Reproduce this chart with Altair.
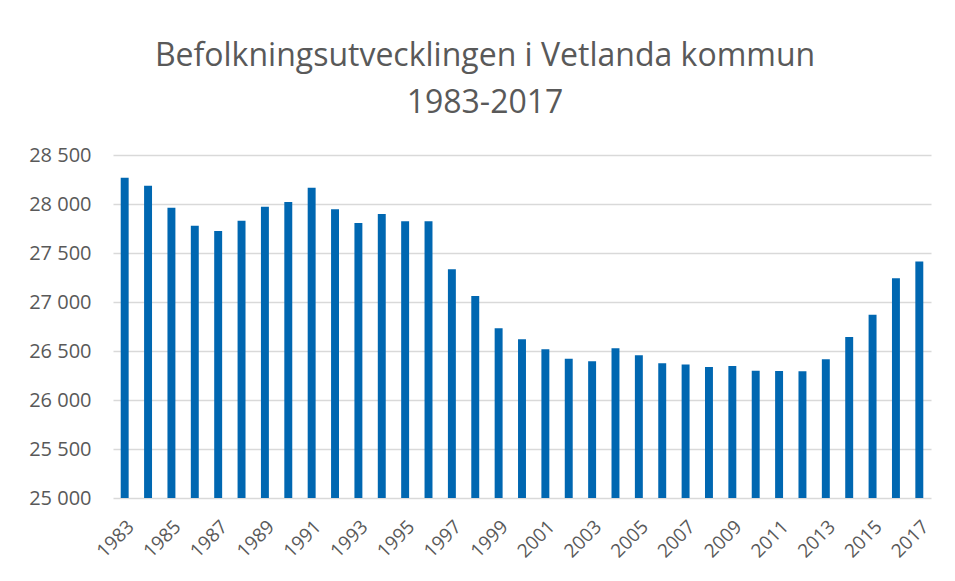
import altair as alt
import pandas as pd

years = list(range(1983, 2018))
population = [28269, 28187, 27963, 27779, 27724, 27830, 27973, 28020, 28167, 27946,
              27806, 27898, 27823, 27823, 27333, 27061, 26731, 26619, 26517, 26422,
              26395, 26528, 26456, 26374, 26361, 26337, 26347, 26299, 26296, 26293,
              26415, 26643, 26871, 27242, 27412]
label_years = [str(y) for y in years if y % 2 == 1]
y_ticks = [25000, 25500, 26000, 26500, 27000, 27500, 28000, 28500]

df = pd.DataFrame({"year": [str(y) for y in years], "pop": population})

chart = alt.Chart(df).mark_bar(color="#0067B1", clip=True).encode(
    x=alt.X("year:N", sort=None, title=None,
            scale=alt.Scale(paddingInner=0.66, paddingOuter=0.33),
            axis=alt.Axis(values=label_years, labelAngle=-45, labelFontSize=19,
                          labelColor="#595959", labelFont="Open Sans",
                          ticks=False, domain=False, labelPadding=19)),
    y=alt.Y("pop:Q", title=None,
            scale=alt.Scale(domain=[25000, 28500], nice=False, zero=False),
            axis=alt.Axis(values=y_ticks, labelFontSize=20, labelColor="#595959",
                          labelFont="Open Sans", ticks=False, domain=False,
                          labelPadding=22, gridColor="#d9d9d9", gridWidth=1.5,
                          labelExpr="replace(format(datum.value, ',d'), ',', ' ')")),
).properties(
    width=818,
    height=343,
    autosize=alt.AutoSizeParams(type="none"),
    padding={"left": 105, "top": 147, "right": 14, "bottom": 72},
    title=alt.TitleParams(
        text=["Befolkningsutvecklingen i Vetlanda kommun", "1983-2017"],
        fontSize=32, font="Open Sans", fontWeight="normal", color="#595959",
        lineHeight=47, anchor="middle", dx=-37, offset=25,
    ),
).configure_view(stroke=None)

chart.save("out.html", embed_options={"renderer": "svg", "actions": False})
